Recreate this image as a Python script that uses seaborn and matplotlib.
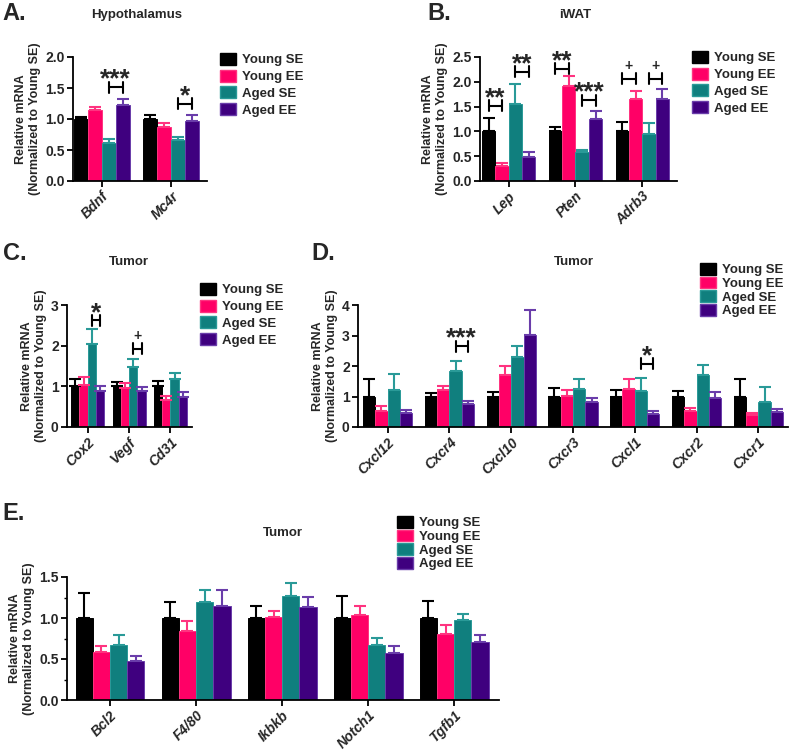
import numpy as np
import pandas as pd
import matplotlib
matplotlib.use("Agg")
import matplotlib.pyplot as plt
from matplotlib.patches import Patch
from matplotlib.ticker import MultipleLocator
import seaborn as sns

sns.set_theme(style="ticks")
plt.rcParams["font.family"] = ["Liberation Sans", "DejaVu Sans"]
plt.rcParams["font.weight"] = "bold"

# ---------------- data ----------------
groups = ["Young SE", "Young EE", "Aged SE", "Aged EE"]
bar_colors = ["#000000", "#FF0066", "#107F7E", "#3F007F"]
err_colors = ["#000000", "#FF3380", "#2A9A98", "#6A3DAA"]

# A. Hypothalamus (rows = groups)
genes_a = ["Bdnf", "Mc4r"]
mean_a = [[1.00, 1.00], [1.14, 0.87], [0.62, 0.66], [1.23, 0.96]]
sem_a = [[0.04, 0.065], [0.06, 0.07], [0.05, 0.05], [0.10, 0.105]]

# B. iWAT
genes_b = ["Lep", "Pten", "Adrb3"]
mean_b = [[1.00, 1.00, 1.00], [0.30, 1.91, 1.65], [1.55, 0.58, 0.95], [0.48, 1.26, 1.65]]
sem_b = [[0.28, 0.09, 0.18], [0.06, 0.20, 0.16], [0.41, 0.05, 0.21], [0.11, 0.16, 0.21]]

# C. Tumor
genes_c = ["Cox2", "Vegf", "Cd31"]
mean_c = [[1.00, 1.00, 1.00], [1.03, 0.95, 0.67], [2.03, 1.47, 1.18], [0.89, 0.88, 0.74]]
sem_c = [[0.17, 0.11, 0.13], [0.20, 0.12, 0.10], [0.39, 0.21, 0.15], [0.13, 0.11, 0.11]]

# D. Tumor chemokines
genes_d = ["Cxcl12", "Cxcr4", "Cxcl10", "Cxcr3", "Cxcl1", "Cxcr2", "Cxcr1"]
mean_d = [[1.00, 1.00, 1.00, 1.00, 1.00, 1.00, 1.00],
          [0.54, 1.22, 1.70, 1.03, 1.26, 0.54, 0.38],
          [1.21, 1.82, 2.28, 1.26, 1.19, 1.72, 0.81],
          [0.46, 0.76, 3.02, 0.83, 0.41, 0.95, 0.49]]
sem_d = [[0.56, 0.10, 0.16, 0.28, 0.22, 0.19, 0.57],
         [0.14, 0.11, 0.31, 0.18, 0.32, 0.09, 0.08],
         [0.52, 0.33, 0.38, 0.32, 0.43, 0.31, 0.49],
         [0.11, 0.10, 0.83, 0.13, 0.11, 0.21, 0.10]]

# E. Tumor
genes_e = ["Bcl2", "F4/80", "Ikbkb", "Notch1", "Tgfb1"]
mean_e = [[1.00, 1.00, 1.00, 1.00, 1.00],
          [0.58, 0.84, 1.01, 1.04, 0.80],
          [0.67, 1.20, 1.27, 0.67, 0.97],
          [0.47, 1.15, 1.135, 0.575, 0.71]]
sem_e = [[0.30, 0.19, 0.15, 0.27, 0.21],
         [0.08, 0.12, 0.07, 0.11, 0.11],
         [0.12, 0.14, 0.16, 0.09, 0.08],
         [0.07, 0.19, 0.125, 0.085, 0.08]]

# significance marks: (gene index, group i, group j, bracket height, label)
sig_a = [(0, 2, 3, 1.51, "***"), (1, 2, 3, 1.25, "*")]
sig_b = [(0, 0, 1, 1.52, "**"), (0, 2, 3, 2.20, "**"), (1, 0, 1, 2.26, "**"),
         (1, 2, 3, 1.63, "***"), (2, 0, 1, 2.06, "+"), (2, 2, 3, 2.06, "+")]
sig_c = [(0, 2, 3, 2.62, "*"), (1, 2, 3, 1.92, "+")]
sig_d = [(1, 2, 3, 2.65, "***"), (4, 2, 3, 2.08, "*")]


def draw_panel(ax, genes, means, sems, ymax, ystep, xlim, sigs=(), minor=None):
    rows = []
    for gi, g in enumerate(groups):
        for j, gene in enumerate(genes):
            rows.append({"gene": gene, "group": g, "value": means[gi][j]})
    df = pd.DataFrame(rows)
    sns.barplot(data=df, x="gene", y="value", hue="group", order=genes,
                hue_order=groups, palette=bar_colors, saturation=1,
                errorbar=None, width=0.8, legend=False, ax=ax)
    bar_conts = list(ax.containers)
    for k, cont in enumerate(bar_conts):
        for j, bar in enumerate(cont):
            bar.set_edgecolor(err_colors[k])
            bar.set_linewidth(0.7)
            xc = bar.get_x() + bar.get_width() / 2
            ax.errorbar(xc, bar.get_height(), yerr=[[0], [sems[k][j]]],
                        color=err_colors[k], capsize=4, elinewidth=1.5,
                        capthick=1.5, zorder=1)
    h = 0.045 * ymax
    for j, g1, g2, yb, txt in sigs:
        b1 = bar_conts[g1][j]
        b2 = bar_conts[g2][j]
        x1 = b1.get_x() + b1.get_width() / 2
        x2 = b2.get_x() + b2.get_width() / 2
        ax.plot([x1, x2], [yb, yb], color="black", lw=1.5)
        ax.plot([x1, x1], [yb - h, yb + h], color="black", lw=1.5)
        ax.plot([x2, x2], [yb - h, yb + h], color="black", lw=1.5)
        off = 5.5 if txt.startswith("*") else 9
        fs = 19 if txt.startswith("*") else 10
        ax.annotate(txt, xy=((x1 + x2) / 2, yb), xytext=(0, off),
                    textcoords="offset points", ha="center", va="center",
                    fontsize=fs, fontweight="bold")
    ax.set_ylim(0, ymax)
    ax.set_xlim(*xlim)
    ax.yaxis.set_major_locator(MultipleLocator(ystep))
    if minor:
        ax.yaxis.set_minor_locator(MultipleLocator(minor))
    fmt = "{:.0f}" if ystep >= 1 else "{:.1f}"
    ticks = [t for t in ax.get_yticks() if -1e-9 <= t <= ymax + 1e-9]
    ax.set_yticks(ticks)
    ax.set_yticklabels([fmt.format(t) for t in ticks])
    ax.set_ylim(0, ymax)
    ax.set_xlabel("")
    ax.set_ylabel("Relative mRNA\n(Normalized to Young SE)", fontsize=9,
                  fontweight="bold", labelpad=3)
    sns.despine(ax=ax)
    for s in ["left", "bottom"]:
        ax.spines[s].set_linewidth(1.3)
        ax.spines[s].set_color("black")
    ax.tick_params(axis="both", which="major", length=4, width=1.3,
                   color="black", labelsize=10, pad=2)
    ax.tick_params(axis="y", which="minor", length=2.5, width=1.0, color="black")
    for lab in ax.get_yticklabels():
        lab.set_fontweight("bold")
    for lab in ax.get_xticklabels():
        lab.set_fontstyle("italic")
        lab.set_fontweight("bold")
        lab.set_rotation(45)
        lab.set_ha("right")
        lab.set_rotation_mode("anchor")


W, H = 794, 750
fig = plt.figure(figsize=(W / 100, H / 100), dpi=100)


def px_axes(left, top, right, bottom):
    return fig.add_axes([left / W, 1 - bottom / H, (right - left) / W, (bottom - top) / H])


ax_a = px_axes(73, 57, 207, 181)
ax_b = px_axes(480, 57, 677, 181)
ax_c = px_axes(67, 305, 192, 427)
ax_d = px_axes(358, 305, 788, 427)
ax_e = px_axes(67, 577, 499, 700)

draw_panel(ax_a, genes_a, mean_a, sem_a, 2.0, 0.5, (-0.41, 1.51), sig_a)
draw_panel(ax_b, genes_b, mean_b, sem_b, 2.5, 0.5, (-0.43, 2.52), sig_b)
draw_panel(ax_c, genes_c, mean_c, sem_c, 3.0, 1, (-0.5, 2.52), sig_c)
draw_panel(ax_d, genes_d, mean_d, sem_d, 4.0, 1, (-0.48, 6.48), sig_d)
draw_panel(ax_e, genes_e, mean_e, sem_e, 1.5, 0.5, (-0.5, 4.52), minor=0.25)

# panel letters and titles
for txt, x, y in [("A.", 2, 2), ("B.", 427, 2), ("C.", 3, 242), ("D.", 311, 242), ("E.", 2, 502)]:
    fig.text(x / W, 1 - y / H, txt, fontsize=17, fontweight="bold", ha="left", va="top")
for txt, x, y in [("Hypothalamus", 137, 15), ("iWAT", 575, 15), ("Tumor", 129, 262),
                  ("Tumor", 574, 262), ("Tumor", 283, 533)]:
    fig.text(x / W, 1 - y / H, txt, fontsize=9.5, fontweight="bold", ha="center", va="center")

# legends
handles = [Patch(facecolor=c, edgecolor=e, label=g) for c, e, g in zip(bar_colors, err_colors, groups)]
for x, y, sp in [(220, 53, 0.25), (692, 51, 0.25), (200, 283, 0.25), (700, 263, 0.02), (397, 516, 0.02)]:
    fig.legend(handles=handles, loc="upper left", bbox_to_anchor=(x / W, 1 - y / H),
               frameon=False, prop={"weight": "bold", "size": 9.5}, handlelength=1.2,
               handleheight=1.0, handletextpad=0.5, labelspacing=sp, borderpad=0,
               borderaxespad=0)

fig.savefig("out.png", dpi=100)
